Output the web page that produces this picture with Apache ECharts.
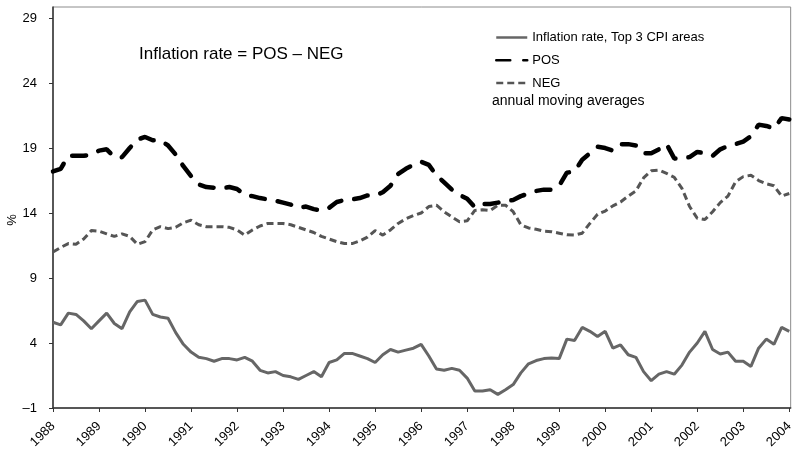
<!DOCTYPE html>
<html>
<head>
<meta charset="utf-8">
<title>Inflation rate = POS - NEG</title>
<script src="https://cdn.jsdelivr.net/npm/echarts@6/dist/echarts.min.js"></script>
<style>
  html, body { margin: 0; padding: 0; background: #fff; }
  #chart { width: 796px; height: 456px; }
</style>
</head>
<body>
<div id="chart"></div>
<script>
// bimonthly readings, Jan 1988 .. Jan 2004
var startYear = 1988;
var yearTicks = [1988, 1989, 1990, 1991, 1992, 1993, 1994, 1995, 1996, 1997, 1998, 1999, 2000, 2001, 2002, 2003, 2004];
var valueTicks = [-1, 4, 9, 14, 19, 24, 29];

var inflation = [
  5.6, 5.4, 6.3, 6.2, 5.7, 5.1, 5.7, 6.3, 5.5, 5.1, 6.4, 7.2,
  7.3, 6.2, 6.0, 5.9, 4.8, 3.9, 3.3, 2.9, 2.8, 2.6, 2.8, 2.8,
  2.7, 2.9, 2.6, 1.9, 1.7, 1.8, 1.5, 1.4, 1.2, 1.5, 1.8, 1.4,
  2.5, 2.7, 3.2, 3.2, 3.0, 2.8, 2.5, 3.1, 3.5, 3.3, 3.45, 3.6,
  3.9, 3.0, 2.0, 1.9, 2.05, 1.9, 1.3, 0.3, 0.3, 0.4, 0.05, 0.4,
  0.8, 1.7, 2.4, 2.65, 2.8, 2.85, 2.8, 4.3, 4.2, 5.2, 4.9, 4.5,
  4.9, 3.6, 3.85, 3.1, 2.9, 1.8, 1.1, 1.6, 1.8, 1.6, 2.3, 3.3,
  4.0, 4.9, 3.5, 3.15, 3.3, 2.6, 2.6, 2.2, 3.6, 4.3, 3.9, 5.2,
  4.9
];

var pos = [
  17.2, 17.4, 18.4, 18.4, 18.4, 18.5, 18.8, 18.9, 18.3, 18.3, 19.0, 19.65,
  19.85, 19.6, 19.6, 19.2, 18.5, 17.6, 16.85, 16.2, 16.0, 15.95, 15.9, 16.0,
  15.85, 15.4, 15.3, 15.15, 15.05, 14.95, 14.8, 14.65, 14.4, 14.5, 14.3, 14.2,
  14.4, 14.85, 15.0, 15.05, 15.15, 15.35, 15.35, 15.6, 16.1, 17.0, 17.4, 17.7,
  17.95, 17.7, 16.9, 16.35, 15.8, 15.4, 15.1, 14.45, 14.7, 14.7, 14.8, 14.9,
  15.0, 15.3, 15.5, 15.7, 15.8, 15.8, 16.1, 17.1, 17.2, 18.1, 18.6, 19.1,
  19.0, 18.8, 19.3, 19.3, 19.2, 18.6, 18.6, 18.9, 19.3, 18.2, 18.2, 18.3,
  18.7, 18.6, 18.4, 18.9, 19.15, 19.3, 19.5, 19.9, 20.8, 20.7, 20.5, 21.3,
  21.2
];

var neg = [
  11.0, 11.35, 11.65, 11.6, 12.0, 12.65, 12.6, 12.4, 12.2, 12.4, 12.2, 11.6,
  11.8, 12.7, 12.95, 12.8, 12.9, 13.25, 13.45, 13.1, 12.95, 12.95, 12.95, 12.9,
  12.7, 12.3, 12.7, 13.0, 13.2, 13.2, 13.2, 13.1, 12.9, 12.7, 12.5, 12.2,
  12.0, 11.8, 11.65, 11.65, 11.85, 12.15, 12.65, 12.3, 12.7, 13.2, 13.55, 13.8,
  14.0, 14.5, 14.6, 14.1, 13.7, 13.33, 13.4, 14.2, 14.25, 14.2, 14.6, 14.6,
  14.1, 13.1, 12.85, 12.75, 12.6, 12.56, 12.45, 12.33, 12.3, 12.45, 13.2, 13.9,
  14.15, 14.55, 14.85, 15.3, 15.7, 16.7, 17.25, 17.3, 17.05, 16.75, 15.9, 14.5,
  13.6, 13.5, 14.1, 14.8, 15.3, 16.4, 16.8, 16.9, 16.5, 16.25, 16.1, 15.3,
  15.5
];

function toPoints(arr) {
  return arr.map(function (v, i) {
    return [startYear + i / 6, v];
  });
}

var font = '"Liberation Sans", Arial, sans-serif';
var myChart = echarts.init(document.getElementById('chart'), null, { renderer: 'canvas' });

var option = {
  animation: false,
  textStyle: { fontFamily: font },
  grid: {
    left: 53,
    right: 4,
    top: 7,
    bottom: 48,
    show: true,
    borderColor: '#8c8c8c',
    borderWidth: 1
  },
  title: {
    text: 'Inflation rate = POS \u2013 NEG',
    left: 134,
    top: 41,
    textStyle: { fontFamily: font, fontSize: 17, fontWeight: 'normal', color: '#000' }
  },
  legend: {
    orient: 'vertical',
    left: 495,
    top: 31,
    padding: 0,
    itemWidth: 31,
    itemHeight: 14,
    itemGap: 9.8,
    selectedMode: false,
    textStyle: { fontFamily: font, fontSize: 13, color: '#000' },
    lineStyle: { width: 2.5 },
    itemStyle: { opacity: 0 }, // only the line sample, no circle
    data: ['Inflation rate, Top 3 CPI areas', 'POS', 'NEG']
  },
  graphic: [
    {
      type: 'text',
      left: 492,
      top: 94,
      style: { text: 'annual moving averages', font: '14px ' + font, fill: '#000' }
    },
    {
      // y axis title
      type: 'text',
      x: 12,
      y: 220,
      rotation: Math.PI / 2,
      style: { text: '%', font: '13px ' + font, fill: '#000', align: 'center', verticalAlign: 'middle' }
    }
  ],
  xAxis: {
    type: 'value',
    min: 1988,
    max: 2004.03,
    axisLine: { onZero: false, lineStyle: { color: '#333', width: 1.5 } },
    axisTick: { customValues: yearTicks, length: 4, lineStyle: { color: '#333' } },
    axisLabel: {
      customValues: yearTicks,
      rotate: 45,
      margin: 16,
      fontFamily: font,
      fontSize: 13,
      color: '#000',
      formatter: function (v) {
        return String(v);
      }
    },
    splitLine: { show: false }
  },
  yAxis: {
    type: 'value',
    min: -1,
    max: 29.85,
    axisLine: { show: true, lineStyle: { color: '#333', width: 1.5 } },
    axisTick: { show: true, customValues: valueTicks, length: 4, lineStyle: { color: '#333' } },
    axisLabel: {
      customValues: valueTicks,
      margin: 16,
      fontFamily: font,
      fontSize: 13,
      color: '#000',
      formatter: function (v) {
        return String(v).replace('-', '\u2013');
      }
    },
    splitLine: { show: false }
  },
  series: [
    {
      name: 'Inflation rate, Top 3 CPI areas',
      type: 'line',
      symbol: 'none',
      color: '#666',
      lineStyle: { color: '#666', width: 3 },
      data: toPoints(inflation)
    },
    {
      name: 'POS',
      type: 'line',
      symbol: 'none',
      color: '#000',
      lineStyle: { color: '#000', width: 4.5, type: [14, 13], cap: 'round' },
      data: toPoints(pos)
    },
    {
      name: 'NEG',
      type: 'line',
      symbol: 'none',
      color: '#555',
      lineStyle: { color: '#555', width: 3, type: [7, 4] },
      data: toPoints(neg)
    }
  ]
};

myChart.setOption(option);
</script>
</body>
</html>
